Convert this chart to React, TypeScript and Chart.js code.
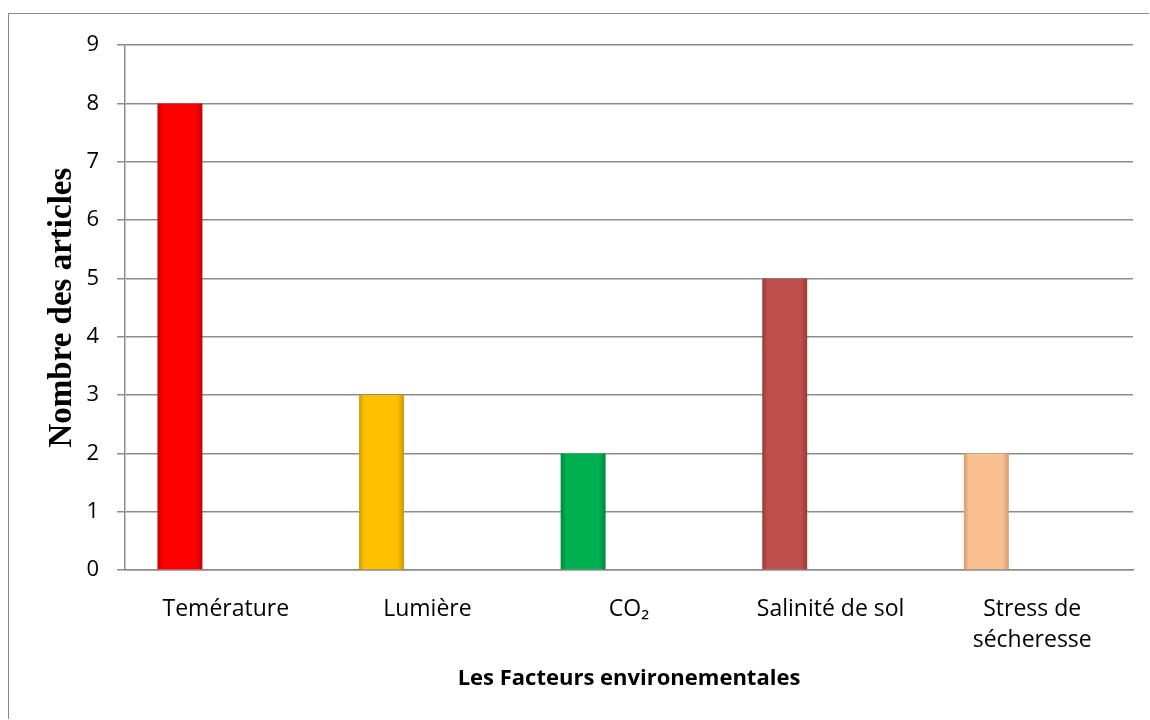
import React, { useEffect, useRef } from 'react';
import { Chart, registerables } from 'chart.js';
Chart.register(...registerables);

const categories: (string | string[])[] = ['Temérature', 'Lumière', 'CO₂', 'Salinité de sol', ['Stress de', 'sécheresse']];
const articleCounts = [8, 3, 2, 5, 2];
const barColors = ['#FF0000', '#FFC000', '#00B050', '#C0504D', '#FAC090'];
const barEdgeColors = ['#C40000', '#CF9A00', '#00873C', '#983A37', '#D49E72'];
const yMin = 0;
const yMax = 9;
const yStep = 1;

const CAT_PCT = 0.91;
const BAR_PCT = 0.49;

function barFill(ctx: any) {
  const i = ctx.dataIndex;
  const chart = ctx.chart;
  const xs = chart.scales && chart.scales.x;
  if (!chart.chartArea || !xs || i == null) return barColors[i] || '#999';
  const slot = xs.width / categories.length;
  const center = xs.getPixelForValue(i) - (slot * CAT_PCT) / 4;
  const half = ((slot * CAT_PCT) / 2) * BAR_PCT / 2;
  const g = chart.ctx.createLinearGradient(center - half, 0, center + half, 0);
  g.addColorStop(0, barEdgeColors[i]);
  g.addColorStop(0.12, barColors[i]);
  g.addColorStop(0.85, barColors[i]);
  g.addColorStop(1, barEdgeColors[i]);
  return g;
}

export default function App() {
  const ref = useRef<HTMLCanvasElement>(null);
  useEffect(() => {
    let chart: Chart | null = null;
    let cancelled = false;
    const make = () => {
      if (cancelled || !ref.current) return;
      chart = new Chart(ref.current, {
        type: 'bar',
        data: {
          labels: categories as any,
          datasets: [
            {
              label: 'Nombre des articles',
              data: articleCounts,
              backgroundColor: barFill as any,
              borderWidth: 0,
              categoryPercentage: CAT_PCT,
              barPercentage: BAR_PCT,
            },
            {
              label: '',
              data: categories.map(() => null) as any,
              categoryPercentage: CAT_PCT,
              barPercentage: BAR_PCT,
            },
          ],
        },
        options: {
          animation: false,
          responsive: false,
          maintainAspectRatio: false,
          layout: { padding: { top: 30, right: 16, left: 0, bottom: 0 } },
          plugins: { legend: { display: false }, tooltip: { enabled: false } },
          scales: {
            x: {
              grid: { display: false, drawTicks: false },
              border: { display: true, color: '#8c8c8c', width: 1.5 },
              ticks: {
                color: '#000',
                font: { family: 'Open Sans', size: 23, lineHeight: 1.35 },
                padding: 24,
                maxRotation: 0,
                minRotation: 0,
                autoSkip: false,
              },
              title: {
                display: true,
                text: 'Les Facteurs environementales',
                color: '#000',
                font: { family: 'Open Sans', size: 22, weight: 'bold' },
                padding: { top: 0, bottom: 27 },
              },
              afterFit: (s: any) => {
                s.height = 149;
              },
            },
            y: {
              min: yMin,
              max: yMax,
              ticks: {
                stepSize: yStep,
                color: '#000',
                font: { family: 'Open Sans', size: 22 },
                padding: 18,
              },
              grid: { color: '#8c8c8c', lineWidth: 1.5, tickLength: 8, drawTicks: true },
              border: { color: '#8c8c8c', width: 1.5 },
              title: {
                display: true,
                text: 'Nombre des articles',
                color: '#000',
                font: { family: 'Liberation Serif', size: 33, weight: 'bold' },
                padding: { top: 34, bottom: 0 },
              },
              afterFit: (s: any) => {
                s.width = 116;
              },
            },
          },
        },
      } as any);
    };
    const fonts: any = (document as any).fonts;
    if (fonts && fonts.load) {
      Promise.all([
        fonts.load('23px "Open Sans"'),
        fonts.load('bold 22px "Open Sans"'),
        fonts.load('bold 33px "Liberation Serif"'),
      ])
        .catch(() => null)
        .then(make);
    } else {
      make();
    }
    return () => {
      cancelled = true;
      if (chart) chart.destroy();
    };
  }, []);
  return (
    <div
      style={{
        position: 'absolute',
        left: 8,
        top: 13,
        width: 1140,
        height: 705,
        borderTop: '1px solid #8a8a8a',
        borderLeft: '1px solid #8a8a8a',
        background: '#fff',
      }}
    >
      <canvas ref={ref} width={1140} height={705} style={{ display: 'block' }} />
    </div>
  );
}
